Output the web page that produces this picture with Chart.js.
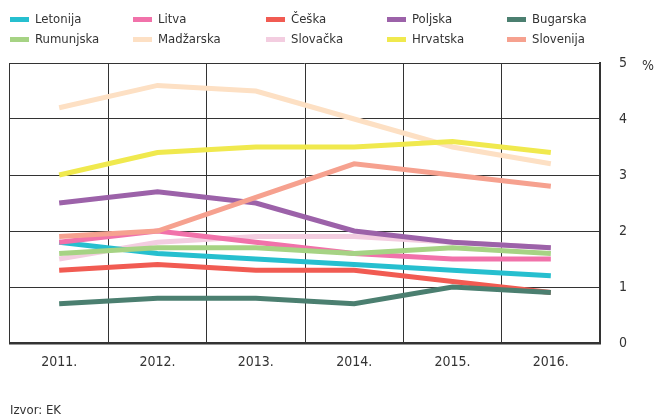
<!DOCTYPE html>
<html>
<head>
<meta charset="utf-8">
<script src="https://cdn.jsdelivr.net/npm/chart.js@4"></script>
<style>
  html, body { margin: 0; padding: 0; background: #fff; }
  body { width: 654px; height: 416px; position: relative; overflow: hidden;
    font-family: "Liberation Sans Narrow", "DejaVu Sans Condensed", sans-serif; color: #333; }
  #chart { position: absolute; left: 0; top: 0; }
  .lg { position: absolute; font-size: 13px; line-height: 14px; white-space: nowrap; }
  .lg i { position: absolute; left: 0; top: 5px; width: 19px; height: 5px; }
  .lg span { position: absolute; left: 25px; top: 0; }
  #src { position: absolute; left: 10px; top: 402px; font-size: 13px; }
</style>
</head>
<body>
<canvas id="chart" width="654" height="416"></canvas>
<div id="legend"></div>
<div id="src">Izvor: EK</div>
<script>
// ── data ────────────────────────────────────────────────────────────────
const years = ["2011.", "2012.", "2013.", "2014.", "2015.", "2016."];
const countries = ["Letonija", "Litva", "Češka", "Poljska", "Bugarska",
  "Rumunjska", "Madžarska", "Slovačka", "Hrvatska", "Slovenija"];
const colors = ["#26bfcf", "#f172aa", "#f15b52", "#9c62a9", "#4b7f70",
  "#a6d384", "#fde0c4", "#f3cde0", "#f0e94e", "#f6a18f"];

const letonija  = [1.8, 1.6, 1.5, 1.4, 1.3, 1.2];
const litva     = [1.8, 2.0, 1.8, 1.6, 1.5, 1.5];
const ceska     = [1.3, 1.4, 1.3, 1.3, 1.1, 0.9];
const poljska   = [2.5, 2.7, 2.5, 2.0, 1.8, 1.7];
const bugarska  = [0.7, 0.8, 0.8, 0.7, 1.0, 0.9];
const rumunjska = [1.6, 1.7, 1.7, 1.6, 1.7, 1.6];
const madzarska = [4.2, 4.6, 4.5, 4.0, 3.5, 3.2];
const slovacka  = [1.5, 1.8, 1.9, 1.9, 1.8, 1.7];
const hrvatska  = [3.0, 3.4, 3.5, 3.5, 3.6, 3.4];
const slovenija = [1.9, 2.0, 2.6, 3.2, 3.0, 2.8];
const series = [letonija, litva, ceska, poljska, bugarska,
  rumunjska, madzarska, slovacka, hrvatska, slovenija];

const yTicks = [0, 1, 2, 3, 4, 5];

// ── legend (html, fixed columns) ────────────────────────────────────────
const colX = [10, 133, 266, 387, 507];
const rowY = [12, 32];
const legend = document.getElementById("legend");
countries.forEach((c, i) => {
  const d = document.createElement("div");
  d.className = "lg";
  d.style.left = colX[i % 5] + "px";
  d.style.top = rowY[Math.floor(i / 5)] + "px";
  d.innerHTML = `<i style="background:${colors[i]}"></i><span>${c}</span>`;
  legend.appendChild(d);
});

const FONT = "'Liberation Sans Narrow', 'DejaVu Sans Condensed', sans-serif";

// "%" label next to top of the right axis
const pctLabel = {
  id: "pctLabel",
  afterDraw(chart) {
    const { ctx } = chart;
    const y = chart.scales.y.getPixelForValue(5);
    ctx.save();
    ctx.font = "14px " + FONT;
    ctx.fillStyle = "#333";
    ctx.textBaseline = "middle";
    ctx.fillText("%", 642, y + 3);
    ctx.restore();
  },
};

new Chart(document.getElementById("chart"), {
  type: "line",
  data: {
    labels: years,
    datasets: series.map((s, i) => ({
      label: countries[i], data: s, borderColor: colors[i], backgroundColor: colors[i],
      borderWidth: 5, pointRadius: 0, tension: 0, fill: false,
      order: i === 7 ? 20 : 10 - i,
    })),
  },
  options: {
    responsive: false, animation: false,
    layout: { padding: { left: 10, top: 63, right: 0, bottom: 0 } },
    scales: {
      x: {
        offset: true,
        grid: { offset: true, color: "#333", lineWidth: 1, drawTicks: false },
        border: { display: true, color: "#333", width: 2.5 },
        ticks: { color: "#333", font: { family: FONT, size: 14 }, padding: 11, maxRotation: 0 },
        afterFit: (s) => { s.height = 73; },
      },
      y: {
        position: "right", min: 0, max: 5,
        afterBuildTicks: (s) => { s.ticks = yTicks.map((v) => ({ value: v })); },
        grid: { color: "#333", lineWidth: 1, drawTicks: false },
        border: { display: true, color: "#333", width: 2 },
        ticks: { color: "#333", font: { family: FONT, size: 14 }, padding: 19 },
        afterFit: (s) => { s.width = 54; },
      },
    },
    plugins: { legend: { display: false }, tooltip: { enabled: false } },
  },
  plugins: [pctLabel],
});
</script>
</body>
</html>
